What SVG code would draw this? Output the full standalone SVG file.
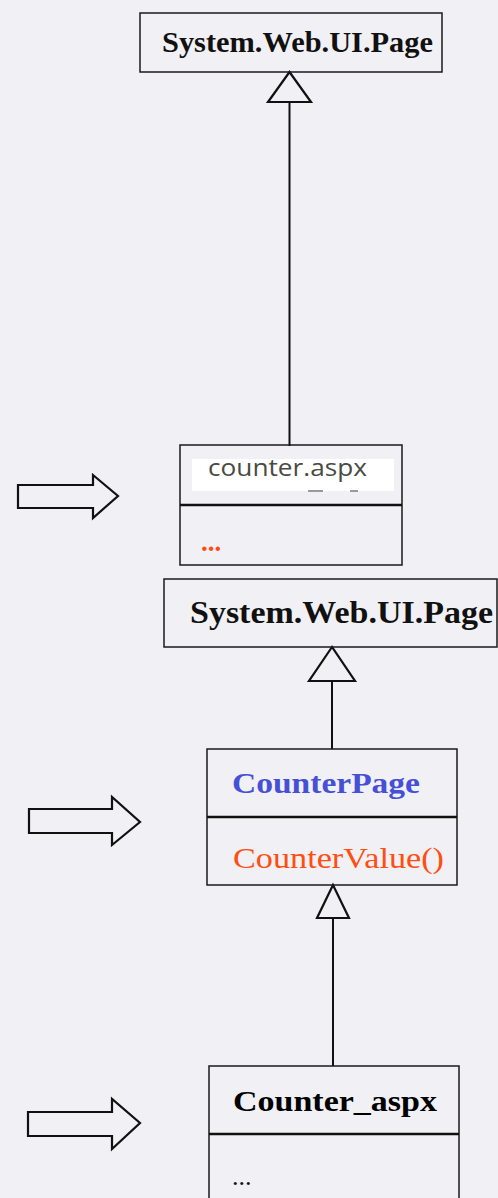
<svg xmlns="http://www.w3.org/2000/svg" width="498" height="1198" viewBox="0 0 498 1198">
<defs>
<style>
.box{fill:none;stroke:#1a1a1a;stroke-width:1.5}
.div{stroke:#111;stroke-width:2.5}
.ln{stroke:#111;stroke-width:2;fill:none}
.tri{fill:#f1f0f4;stroke:#111;stroke-width:2.2;stroke-linejoin:miter}
.blk{fill:none;stroke:#111;stroke-width:2.2;stroke-linejoin:miter}
.serifb{font-family:"Liberation Serif","Times New Roman",serif;font-weight:bold}
.serif{font-family:"Liberation Serif","Times New Roman",serif}
</style>
</defs>
<rect width="498" height="1198" fill="#f1f0f4"/>
<g id="connectors">
<line class="ln" x1="289.5" y1="102" x2="289.5" y2="446"/>
<polygon class="tri" points="289.5,72 268,102 311,102"/>
<line class="ln" x1="332" y1="681" x2="332" y2="749"/>
<polygon class="tri" points="332,647 309,681 355,681"/>
<line class="ln" x1="333" y1="918" x2="333" y2="1066"/>
<polygon class="tri" points="333,885 317,918 349,918"/>
</g>
<g id="page1">
<rect class="box" x="140" y="13" width="302" height="59"/>
<text class="serifb" x="162" y="52" font-size="30" textLength="271" lengthAdjust="spacingAndGlyphs" fill="#111">System.Web.UI.Page</text>
</g>
<g id="counter-aspx">
<rect class="box" x="180" y="445" width="222" height="120"/>
<rect x="192" y="459" width="202" height="32" fill="#ffffff"/>
<rect x="308" y="490" width="15" height="2" fill="#9a9a9a"/>
<rect x="350" y="490" width="8" height="2" fill="#9a9a9a"/>
<text x="208" y="476" font-family="'Open Sans','DejaVu Sans',sans-serif" font-size="23" textLength="159" lengthAdjust="spacingAndGlyphs" fill="#4a4a44">counter.aspx</text>
<line class="div" x1="180" y1="505" x2="402" y2="505"/>
<text class="serifb" x="201" y="551" font-size="27" fill="#ff4a10">...</text>
</g>
<g id="arrow1">
<polygon class="blk" points="18,485 93,485 93,475 118,496 93,518 93,508 18,508"/>
</g>
<g id="page2">
<rect class="box" x="164" y="579" width="333" height="68"/>
<text class="serifb" x="190" y="623" font-size="32" textLength="303" lengthAdjust="spacingAndGlyphs" fill="#111">System.Web.UI.Page</text>
</g>
<g id="counterpage">
<rect class="box" x="207" y="749" width="250" height="136"/>
<text class="serifb" x="232" y="793" font-size="30" textLength="188" lengthAdjust="spacingAndGlyphs" fill="#4650d6">CounterPage</text>
<line class="div" x1="207" y1="817" x2="457" y2="817"/>
<text class="serif" x="233" y="868" font-size="30" textLength="211" lengthAdjust="spacingAndGlyphs" fill="#ff4e12">CounterValue()</text>
</g>
<g id="arrow2">
<polygon class="blk" points="29,809 112,809 112,797 140,822 112,845 112,833 29,833"/>
</g>
<g id="counter-aspx-class">
<rect class="box" x="209" y="1066" width="250" height="140"/>
<text class="serifb" x="233" y="1111" font-size="30" textLength="204" lengthAdjust="spacingAndGlyphs" fill="#000">Counter_aspx</text>
<line class="div" x1="209" y1="1134" x2="459" y2="1134"/>
<text class="serif" x="232" y="1185" font-size="26" fill="#111">...</text>
</g>
<g id="arrow3">
<polygon class="blk" points="28,1112 112,1112 112,1099 140,1123 112,1149 112,1136 28,1136"/>
</g>
</svg>
